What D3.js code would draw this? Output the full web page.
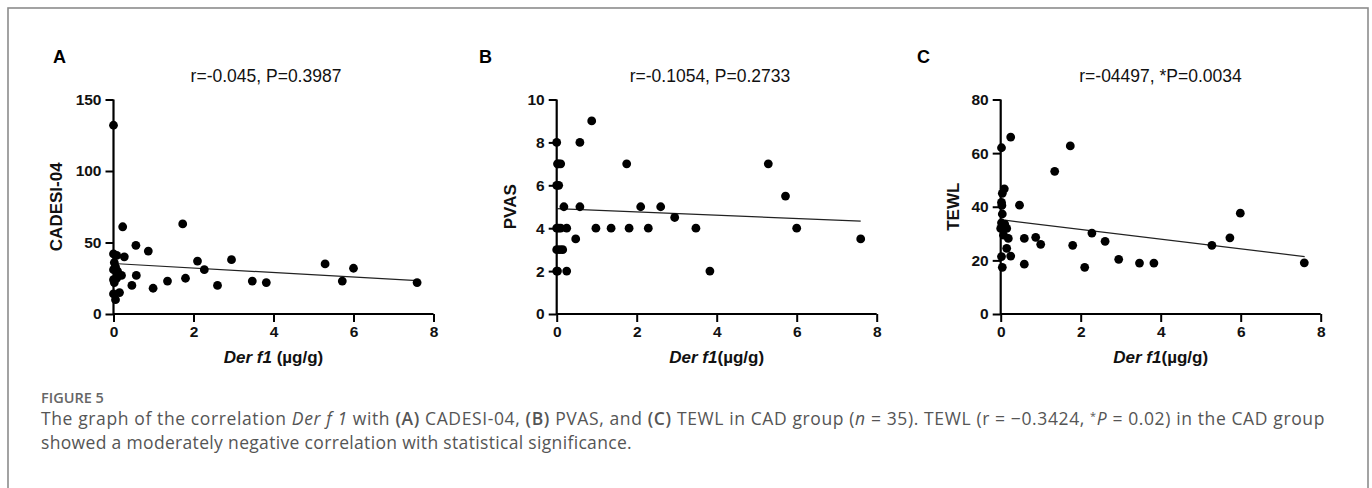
<!DOCTYPE html>
<html><head><meta charset="utf-8">
<script src="https://cdn.jsdelivr.net/npm/d3@7"></script>
<style>
body{margin:0;background:#fff;position:relative;width:1372px;height:488px;overflow:hidden}
svg{display:block}
.cap{position:absolute;left:41px;top:0;white-space:nowrap;font-family:'Open Sans',Lato,sans-serif;color:#555;line-height:1;font-size:17.5px}
.cap i{font-style:italic}
.cap b{font-weight:600}
.cap .sup{font-size:0.62em;vertical-align:0.45em}
</style>
</head><body>
<svg id="c" width="1372" height="488"></svg>
<div id="cap1" class="cap"></div>
<div id="cap2" class="cap"></div>
<script>
// ---- data ----
const xTicks = [0, 2, 4, 6, 8];
const yTicksA = [0, 50, 100, 150];
const yTicksB = [0, 2, 4, 6, 8, 10];
const yTicksC = [0, 20, 40, 60, 80];

const cadesi = [
  [0,132],[0.23,61],[1.73,63],[0.56,48],[0.87,44],[0,42],[0.08,41],[0.27,40],
  [2.1,37],[2.95,38],[2.27,31],[5.29,35],[6.0,32],[5.72,23],[7.59,22],[3.47,23],
  [3.82,22],[2.6,20],[1.8,25],[1.35,23],[0.99,18],[0.46,20],[0.57,27],
  [0.02,36],[0,31],[0.1,30],[0.05,33],[0.2,27],[0.12,28],[0,24],[0.02,22],
  [0,14],[0.15,15],[0.05,10],[0.08,25]
];
const pvas = [
  [0,8],[0.58,8],[0.875,9],[0.02,7],[0.1,7],[1.75,7],[5.29,7],[0,6],[0.05,6],
  [5.72,5.5],[0.18,5],[0.58,5],[2.1,5],[2.6,5],[2.95,4.5],[0,4],[0.1,4],[0.25,4],
  [0.98,4],[1.36,4],[1.81,4],[2.29,4],[3.48,4],[6.0,4],[0.475,3.5],[7.6,3.5],
  [0,3],[0.15,3],[0.02,2],[0.25,2],[3.83,2],[0.05,4],[0.08,3],[0.05,7],[0,2]
];
const tewl = [
  [0.25,66],[0.02,62],[1.74,62.7],[1.35,53.2],[0.09,46.7],[0.04,45],[0.02,41.6],
  [0.03,40.5],[0.47,40.6],[5.99,37.6],[0.04,37.3],[0.02,34],[0.1,33.5],[0,31.9],
  [0.15,31.9],[2.28,30.2],[0.07,29.4],[0.19,28.2],[0.59,28.2],[0.875,28.6],
  [5.73,28.4],[1.0,26],[2.61,27.1],[1.8,25.6],[5.28,25.6],[0.15,24.5],[0.02,21.4],
  [0.25,21.6],[2.95,20.4],[3.47,19],[3.83,19],[7.59,19.1],[0.59,18.6],[0.04,17.4],
  [2.1,17.4]
];
const fitA = [[0,35.3],[7.6,23.3]];
const fitB = [[0,4.91],[7.6,4.33]];
const fitC = [[0.1,35.0],[7.6,21.4]];

const letters = ["A","B","C"];
const titles = ["r=-0.045, P=0.3987","r=-0.1054, P=0.2733","r=-04497, *P=0.0034"];
const yLabels = ["CADESI-04","PVAS","TEWL"];
const xLabelTails = [" (µg/g)","(µg/g)","(µg/g)"];

// ---- drawing ----
const svg = d3.select("#c");
svg.append("rect").attr("x",8).attr("y",8).attr("width",1360).attr("height",520)
  .attr("fill","none").attr("stroke","#8c8c8c").attr("stroke-width",1.6);

const panels = [
  {x0:113.5, data:cadesi, fit:fitA, yMax:150, yT:yTicksA, lx:53, tx:266, ylx:56},
  {x0:556.7, data:pvas, fit:fitB, yMax:10, yT:yTicksB, lx:479, tx:710, ylx:510},
  {x0:1000.7, data:tewl, fit:fitC, yMax:80, yT:yTicksC, lx:917, tx:1160.5, ylx:953}
];
const yTop = 99.5, yBot = 314;
const font = "'Liberation Sans', Arial, sans-serif";

panels.forEach((p, i) => {
  const x = d3.scaleLinear().domain([0, 8]).range([p.x0, p.x0 + 320]);
  const y = d3.scaleLinear().domain([0, p.yMax]).range([yBot, yTop]);
  const g = svg.append("g");

  const xa = g.append("g").attr("transform", `translate(0,${yBot})`)
    .call(d3.axisBottom(x).tickValues(xTicks).tickSize(8).tickPadding(4).tickFormat(d3.format("d")));
  const ya = g.append("g").attr("transform", `translate(${p.x0},0)`)
    .call(d3.axisLeft(y).tickValues(p.yT).tickSize(8).tickPadding(4).tickFormat(d3.format("d")));
  [xa, ya].forEach(a => {
    a.select(".domain").attr("stroke","#000").attr("stroke-width",2.2);
    a.selectAll(".tick line").attr("stroke","#000").attr("stroke-width",2);
    a.selectAll("text").attr("fill","#111").style("font-family",font)
      .style("font-weight","bold").style("font-size","15.5px");
  });
  xa.select(".domain").attr("d", `M${p.x0},0H${p.x0+320}`);
  ya.select(".domain").attr("d", `M0,${yBot}V${yTop}`);

  g.append("line")
    .attr("x1", x(p.fit[0][0])).attr("y1", y(p.fit[0][1]))
    .attr("x2", x(p.fit[1][0])).attr("y2", y(p.fit[1][1]))
    .attr("stroke","#222").attr("stroke-width",1.2);

  g.selectAll("circle.pt").data(p.data).join("circle")
    .attr("cx", d => x(d[0])).attr("cy", d => y(d[1])).attr("r", 4.4).attr("fill","#000");

  g.append("text").attr("x", p.lx).attr("y", 63).text(letters[i])
    .style("font-family",font).style("font-weight","bold").style("font-size","18px");
  g.append("text").attr("x", p.tx).attr("y", 81.5).attr("text-anchor","middle").text(titles[i])
    .style("font-family",font).style("font-size","17.5px").attr("fill","#111");
  g.append("text").attr("transform", `translate(${p.ylx + 6},${(yTop+yBot)/2}) rotate(-90)`)
    .attr("text-anchor","middle").text(yLabels[i])
    .style("font-family",font).style("font-weight","bold").style("font-size","17px").attr("fill","#111");
  const xt = g.append("text").attr("x", p.x0 + 160).attr("y", 363).attr("text-anchor","middle")
    .style("font-family",font).style("font-weight","bold").style("font-size","17px").attr("fill","#111");
  xt.append("tspan").style("font-style","italic").text("Der f1");
  xt.append("tspan").text(xLabelTails[i]);
});

// caption
svg.append("text").attr("x", 41).attr("y", 403).text("FIGURE 5")
  .style("font-family","'Open Sans', Lato, sans-serif").style("font-weight","600")
  .style("font-size","14.5px").attr("fill","#666");

const BL = '<span class="bl" style="display:inline-block;width:0;height:0;vertical-align:baseline"></span>';
const caption1 = 'The graph of the correlation <i>Der f 1</i> with <b>(A)</b> CADESI-04, <b>(B)</b> PVAS, and ' +
  '<b>(C)</b> TEWL in CAD group (<i>n</i> = 35). TEWL (r = −0.3424, <span class="sup">*</span><i>P</i> = 0.02) ' +
  'in the CAD group';
const caption2 = 'showed a moderately negative correlation with statistical significance.';

function placeCaption(id, html, targetWidth, baseline) {
  const sel = d3.select(id).html(html + BL);
  const n = sel.node();
  const w0 = n.getBoundingClientRect().width;
  const chars = n.textContent.length;
  sel.style("letter-spacing", ((targetWidth - w0) / chars).toFixed(3) + "px");
  const r0 = n.getBoundingClientRect();
  const b = n.querySelector(".bl").getBoundingClientRect();
  sel.style("top", (baseline - (b.bottom - r0.top)).toFixed(2) + "px");
}
placeCaption("#cap1", caption1, 1284, 425);
placeCaption("#cap2", caption2, 591, 449);
</script>
</body></html>
